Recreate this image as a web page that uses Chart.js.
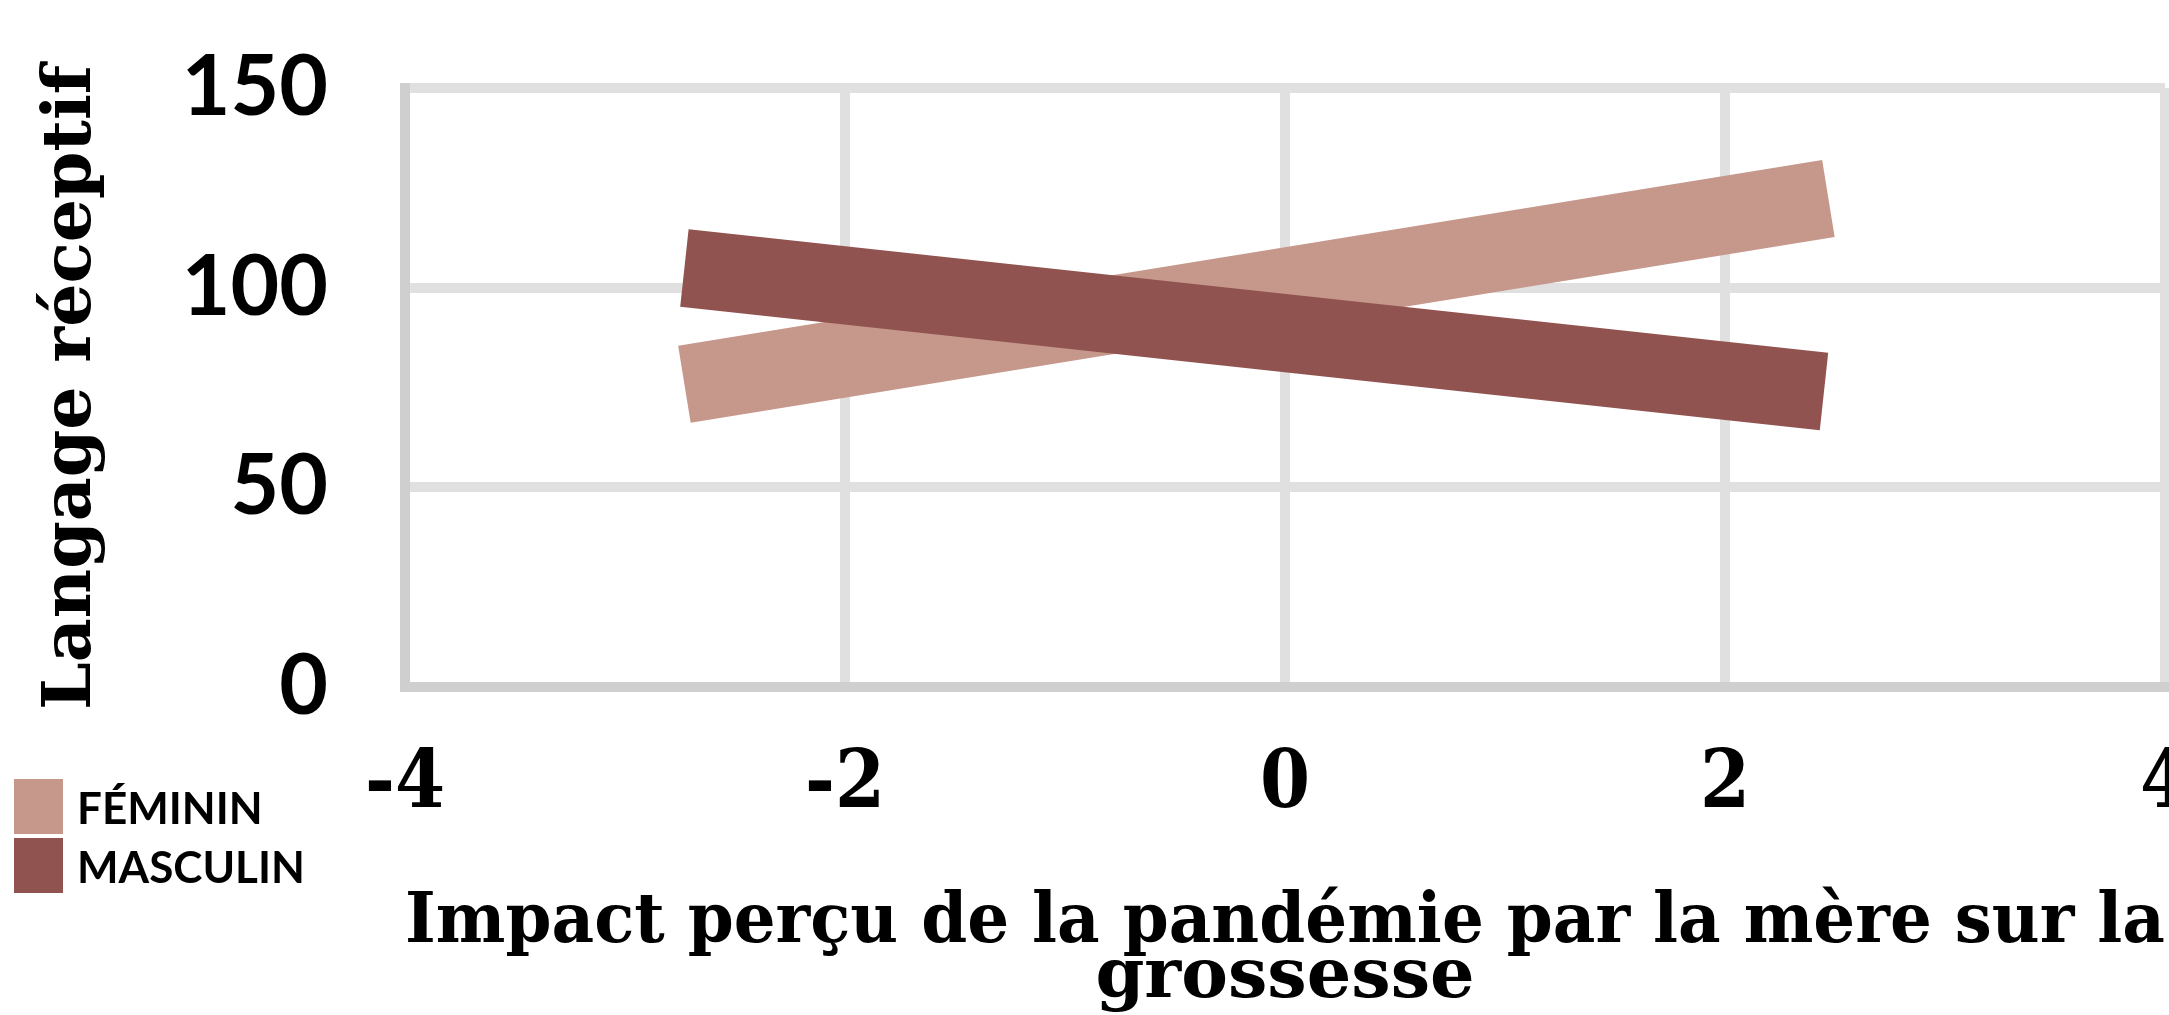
<!DOCTYPE html>
<html>
<head>
<meta charset="utf-8">
<script src="https://cdn.jsdelivr.net/npm/chart.js@4.4.0/dist/chart.umd.min.js"></script>
<style>
  html, body { margin: 0; padding: 0; background: #fff; }
  #wrap { position: relative; width: 2169px; height: 1015px; }
  #legend { position: absolute; left: 14px; top: 779px; font-family: Lato, sans-serif; font-weight: 700; font-size: 44px; color: #000; }
  .item { display: flex; align-items: center; height: 55px; margin-bottom: 4px; }
  .box { width: 49px; height: 55px; margin-right: 14px; }
</style>
</head>
<body>
<div id="wrap">
  <canvas id="myChart" width="2169" height="1015"></canvas>
  <div id="legend"></div>
</div>
<script>
var series = ['FÉMININ', 'MASCULIN']
var colors = ['#c6988c', '#915350']

// regression lines, two end points each
var impactFeminin = [-2.73, 2.47]
var langageFeminin = [75.8, 122.3]
var impactMasculin = [-2.73, 2.45]
var langageMasculin = [104.9, 74.0]

var xTicks = [-4, -2, 0, 2, 4]
var yTicks = [0, 50, 100, 150]

function points(xs, ys) {
    var out = []
    for (var i = 0; i < xs.length; i++) out.push({x: xs[i], y: ys[i]})
    return out
}

var ctx = document.getElementById('myChart').getContext('2d')
var chart = new Chart(ctx, {
    type: 'scatter',
    data: {
        datasets: [
            {
                label: series[0],
                data: points(impactFeminin, langageFeminin),
                borderColor: colors[0],
                backgroundColor: colors[0],
                order: 2
            },
            {
                label: series[1],
                data: points(impactMasculin, langageMasculin),
                borderColor: colors[1],
                backgroundColor: colors[1],
                order: 1
            }
        ]
    },
    options: {
        responsive: false,
        animation: false,
        showLine: true,
        elements: {
            line: { borderWidth: 78, borderCapStyle: 'butt', tension: 0, fill: false },
            point: { radius: 0, hoverRadius: 0 }
        },
        layout: { padding: { top: 88, right: 4, left: 0, bottom: 0 } },
        plugins: { legend: { display: false }, tooltip: { enabled: false } },
        scales: {
            x: {
                type: 'linear',
                min: xTicks[0],
                max: xTicks[xTicks.length - 1],
                afterBuildTicks: function (s) { s.ticks = xTicks.map(function (v) { return {value: v} }) },
                afterFit: function (s) { s.height = 328; s.paddingLeft = 0; s.paddingRight = 0 },
                grid: { color: '#e0e0e0', lineWidth: 10, drawTicks: false },
                border: { color: '#cfcfcf', width: 10 },
                ticks: {
                    color: '#000',
                    padding: 51,
                    font: { family: '"DejaVu Serif Condensed", "DejaVu Serif", serif', weight: 'bold', size: 80 }
                },
                title: {
                    display: true,
                    text: ['Impact perçu de la pandémie par la mère sur la', 'grossesse'],
                    color: '#000',
                    padding: { top: 0, bottom: 9 },
                    font: { family: '"DejaVu Serif", serif', weight: 'bold', size: 70, lineHeight: '55px' }
                }
            },
            y: {
                type: 'linear',
                min: yTicks[0],
                max: yTicks[yTicks.length - 1],
                afterBuildTicks: function (s) { s.ticks = yTicks.map(function (v) { return {value: v} }) },
                afterFit: function (s) { s.width = 405; s.paddingTop = 0; s.paddingBottom = 0 },
                grid: { color: '#e0e0e0', lineWidth: 10, drawTicks: false },
                border: { color: '#cfcfcf', width: 10 },
                ticks: {
                    color: '#000',
                    padding: 77,
                    font: { family: 'Lato, sans-serif', weight: 'bold', size: 84 }
                },
                title: {
                    display: true,
                    text: 'Langage réceptif',
                    color: '#000',
                    padding: { top: 32, bottom: 0 },
                    font: { family: '"DejaVu Serif", serif', weight: 'bold', size: 68 }
                }
            }
        }
    }
})

// legend on the left under the axis title
var legendHtml = ''
chart.data.datasets.forEach(function (ds) {
    legendHtml += '<div class="item"><div class="box" style="background:' + ds.backgroundColor + '"></div><span>' + ds.label + '</span></div>'
})
document.getElementById('legend').innerHTML = legendHtml
</script>
</body>
</html>
